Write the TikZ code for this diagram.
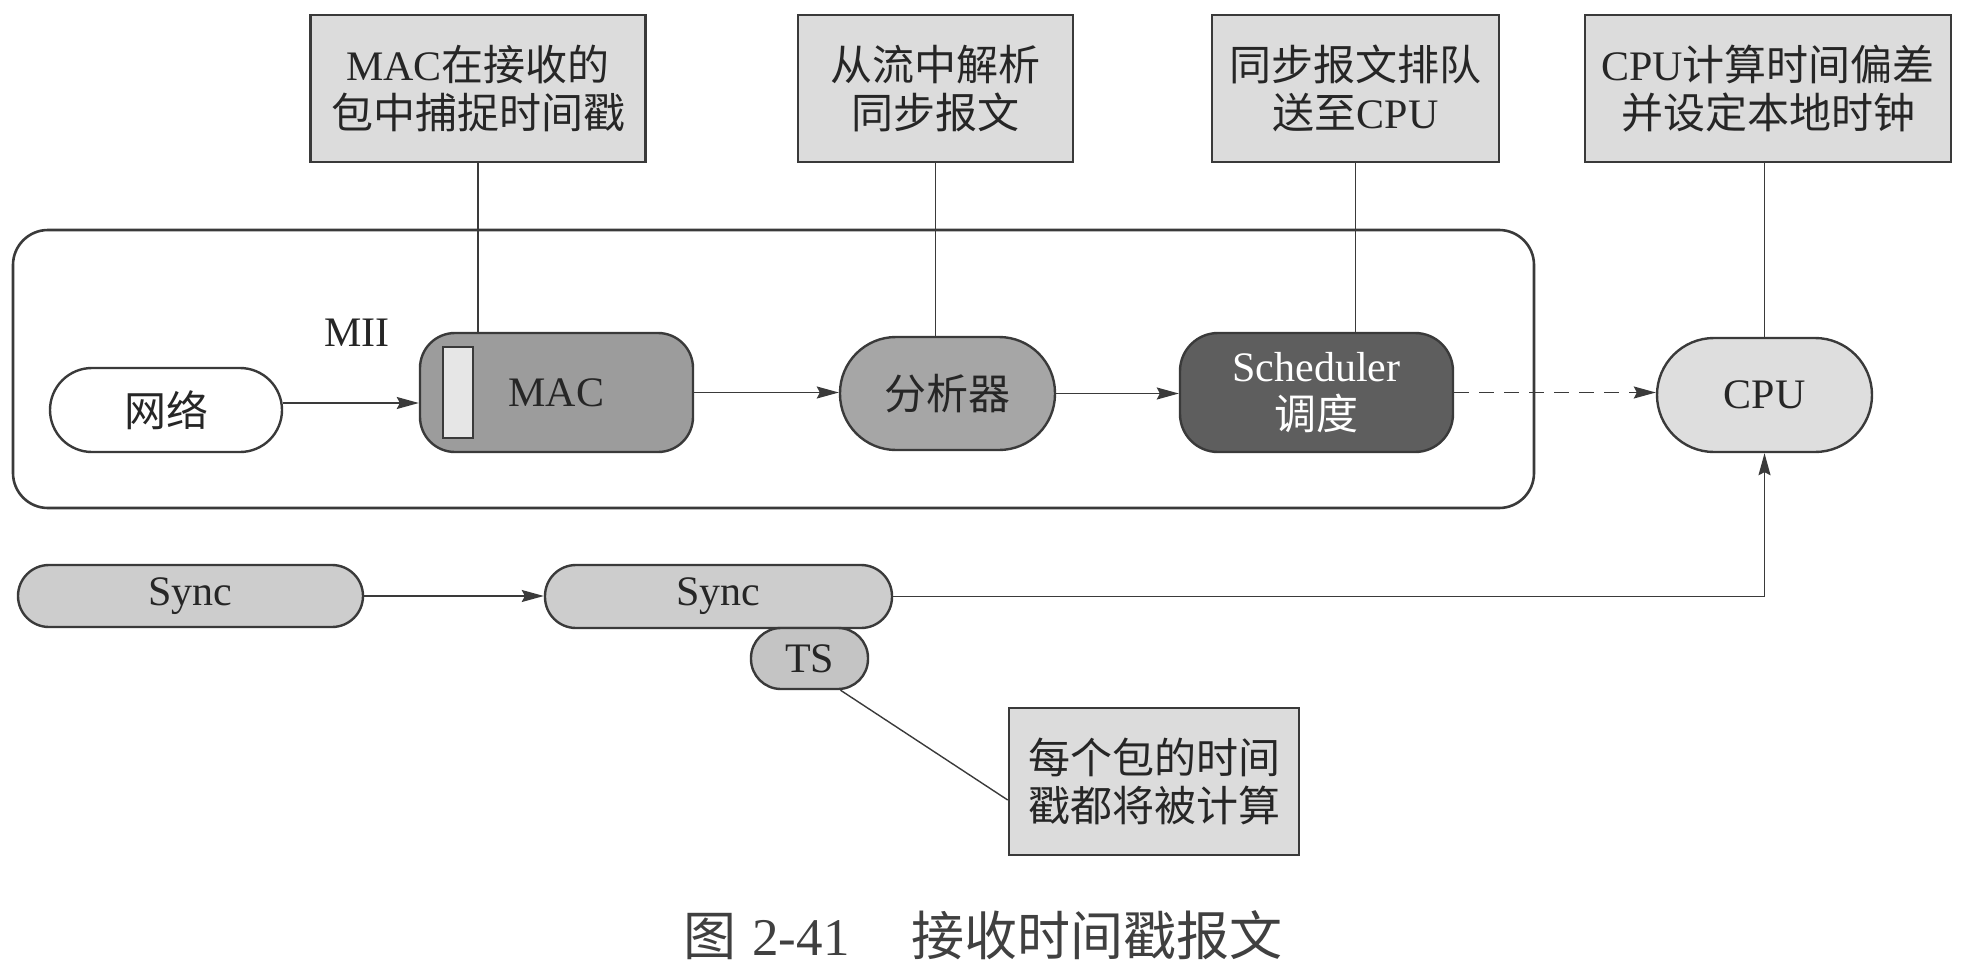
\documentclass[tikz,border=0pt]{standalone}
\usepackage{fontspec}
\setmainfont{Liberation Serif}
\newfontfamily\cjk{Noto Sans CJK SC}
\usetikzlibrary{arrows.meta}
\definecolor{edge}{HTML}{3A3A3A}
\definecolor{boxfill}{HTML}{DCDCDC}
\definecolor{macfill}{HTML}{9C9C9C}
\definecolor{anafill}{HTML}{A6A6A6}
\definecolor{schedfill}{HTML}{5E5E5E}
\definecolor{cpufill}{HTML}{DEDEDE}
\definecolor{syncfill}{HTML}{CDCDCD}
\definecolor{tsfill}{HTML}{C4C4C4}
\definecolor{barfill}{HTML}{E6E6E6}
\begin{document}
\begin{tikzpicture}[x=1pt,y=-1pt,
  every node/.style={font=\fontsize{42pt}{48pt}\selectfont, text=black!85},
  note/.style={draw=edge, line width=2.6pt, fill=boxfill, inner sep=0pt, align=center, minimum height=147pt},
  pill/.style={draw=edge, line width=2.4pt, inner sep=0pt, align=center},
  link/.style={draw=edge, line width=1.4pt},
  arr/.style={link, -{Stealth[length=22pt,width=12pt,inset=3pt]}},
]
\useasboundingbox (0,0) rectangle (1966,966);

% top notes
\node[note, minimum width=335pt] (n1) at (478,88.5) {MAC{\cjk 在接收的}\\{\cjk 包中捕捉时间戳}};
\node[note, minimum width=275pt] (n2) at (935.5,88.5) {{\cjk 从流中解析}\\{\cjk 同步报文}};
\node[note, minimum width=287pt] (n3) at (1355.5,88.5) {{\cjk 同步报文排队}\\{\cjk 送至}CPU};
\node[note, minimum width=366pt] (n4) at (1768,88.5) {CPU{\cjk 计算时间偏差}\\{\cjk 并设定本地时钟}};

% container frame
\draw[draw=edge, line width=2.6pt, rounded corners=35pt] (13,230) rectangle (1534,508);

% main row
\node (mii) at (357,333) {MII};
\node[pill, fill=white, minimum width=232pt, minimum height=84pt, rounded corners=42pt] (wl) at (166,410) {\cjk 网络};
\node[pill, fill=macfill, minimum width=273pt, minimum height=119pt, rounded corners=35pt] (mac) at (556.5,392.5) {MAC};
\node[draw=edge, line width=2pt, fill=barfill, minimum width=30pt, minimum height=91pt, inner sep=0pt] (macbar) at (458,392.5) {};
\node[pill, fill=anafill, minimum width=215pt, minimum height=113pt, rounded corners=56pt] (ana) at (947.5,393.5) {\cjk 分析器};
\node[pill, fill=schedfill, text=white, minimum width=273pt, minimum height=119pt, rounded corners=38pt] (sch) at (1316.5,392.5) {Scheduler\\{\cjk 调度}};
\node[pill, fill=cpufill, minimum width=215pt, minimum height=114pt, rounded corners=57pt] (cpu) at (1764.5,395) {CPU};

% bottom row
\node[pill, fill=syncfill, minimum width=345pt, minimum height=62pt, rounded corners=31pt] (s1) at (190.5,596) {Sync};
\node[pill, fill=syncfill, minimum width=347pt, minimum height=63pt, rounded corners=31pt] (s2) at (718.5,596.5) {Sync};
\node[pill, fill=tsfill, minimum width=117pt, minimum height=61pt, rounded corners=30pt] (ts) at (809.5,658.5) {TS};
\node[note, minimum width=290pt] (n5) at (1154,781.5) {{\cjk 每个包的时间}\\{\cjk 戳都将被计算}};

% connectors from notes
\draw[link] (n1.south) -- (n1.south |- mac.north);
\draw[link] (n2.south) -- (n2.south |- ana.north);
\draw[link] (n3.south) -- (n3.south |- sch.north);
\draw[link] (cpu.north) -- (cpu.north |- n4.south);

% flow arrows
\draw[arr] ([yshift=7pt]wl.east) -- ([yshift=7pt]wl.east -| mac.west);
\draw[arr] (mac.east) -- (mac.east -| ana.west);
\draw[arr] (ana.east) -- (ana.east -| sch.west);
\draw[arr, dash pattern=on 15pt off 10pt] (sch.east) -- (sch.east -| cpu.west);
\draw[arr] (s1.east) -- (s1.east -| s2.west);
\draw[arr] (s2.east) -| (cpu.south);
\draw[link] ([xshift=31pt]ts.south) -- ([yshift=-18.5pt]n5.west);

% caption
\node[font=\fontsize{53pt}{60pt}\selectfont, text=black!75] (cap) at (983,935) {{\cjk 图}\hspace{16pt}2-41\hspace{62pt}{\cjk 接收时间戳报文}};
\end{tikzpicture}
\end{document}
